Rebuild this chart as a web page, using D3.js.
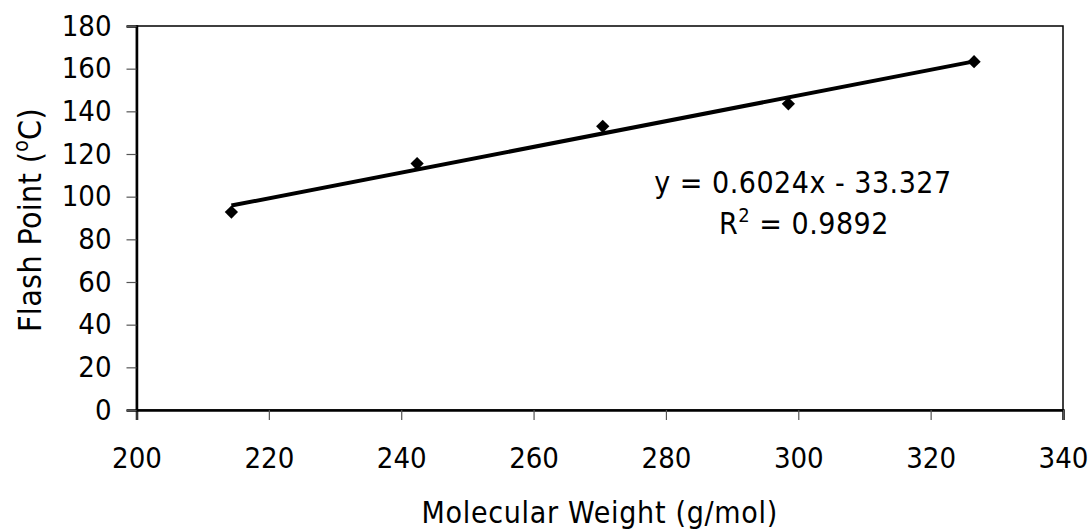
<!DOCTYPE html>
<html>
<head>
<meta charset="utf-8">
<script src="https://cdn.jsdelivr.net/npm/d3@7"></script>
<style>
  body { margin: 0; background: #fff; }
  svg text { font-family: "DejaVu Sans Condensed", "DejaVu Sans", sans-serif; fill: #000; }
</style>
</head>
<body>
<div id="chart"></div>
<script>
// molecular weight (g/mol) vs flash point (C)
var molWeight = [214.34, 242.40, 270.45, 298.50, 326.56];
var flashPoint = [92.8, 115.5, 133.0, 143.5, 163.3];

var xTicks = [200, 220, 240, 260, 280, 300, 320, 340];
var yTicks = [0, 20, 40, 60, 80, 100, 120, 140, 160, 180];

var eqLine = "y = 0.6024x - 33.327";
var r2Value = " = 0.9892";

var width = 1092,
    height = 531,
    margin = {left: 136.5, right: 29, top: 26, bottom: 121};

var svg = d3.select("#chart").append("svg")
    .attr("width", width)
    .attr("height", height);

var x = d3.scaleLinear()
    .domain([200, 340])
    .range([margin.left, width - margin.right]);

var y = d3.scaleLinear()
    .domain([0, 180])
    .range([height - margin.bottom, margin.top]);

// plot frame
svg.append("rect")
    .attr("x", x(200))
    .attr("y", y(180))
    .attr("width", x(340) - x(200))
    .attr("height", y(0) - y(180))
    .attr("fill", "none")
    .attr("stroke", "#000")
    .attr("stroke-width", 1.5);

// axes
var xAxis = svg.append("g")
    .attr("transform", "translate(0," + y(0) + ")")
    .call(d3.axisBottom(x).tickValues(xTicks).tickSize(10).tickPadding(27));

var yAxis = svg.append("g")
    .attr("transform", "translate(" + x(200) + ",0)")
    .call(d3.axisLeft(y).tickValues(yTicks).tickSize(10).tickPadding(15));

[xAxis, yAxis].forEach(function(ax) {
    ax.select(".domain").attr("stroke", "#000").attr("stroke-width", 2.5);
    ax.selectAll(".tick line").attr("stroke", "#555").attr("stroke-width", 1.2);
    ax.selectAll(".tick text")
      .attr("font-family", "DejaVu Sans Condensed, DejaVu Sans, sans-serif")
      .attr("font-size", 29)
      .attr("fill", "#000");
});

// least squares trend line
var mx = d3.mean(molWeight), my = d3.mean(flashPoint);
var sxy = d3.sum(molWeight, function(d, i) { return (d - mx) * (flashPoint[i] - my); });
var sxx = d3.sum(molWeight, function(d) { return (d - mx) * (d - mx); });
var slope = sxy / sxx, intercept = my - slope * mx;
var ext = d3.extent(molWeight);

svg.append("line")
    .attr("x1", x(ext[0]))
    .attr("y1", y(slope * ext[0] + intercept))
    .attr("x2", x(ext[1]))
    .attr("y2", y(slope * ext[1] + intercept))
    .attr("stroke", "#000")
    .attr("stroke-width", 4);

// diamond markers
var pts = molWeight.map(function(d, i) { return {mw: d, fp: flashPoint[i]}; });
svg.selectAll(".pt")
    .data(pts)
    .enter()
    .append("path")
    .attr("class", "pt")
    .attr("d", d3.symbol().type(d3.symbolDiamond2).size(112))
    .attr("transform", function(d) { return "translate(" + x(d.mw) + "," + y(d.fp) + ")"; })
    .attr("fill", "#000");

// equation labels
svg.append("text")
    .attr("x", 803)
    .attr("y", 193)
    .attr("text-anchor", "middle")
    .attr("font-size", 30)
    .attr("letter-spacing", 0.5)
    .text(eqLine);

var r2 = svg.append("text")
    .attr("x", 804)
    .attr("y", 234)
    .attr("text-anchor", "middle")
    .attr("font-size", 30)
    .attr("letter-spacing", 0.5);
r2.append("tspan").text("R");
r2.append("tspan").attr("font-size", 20).attr("dy", -12).text("2");
r2.append("tspan").attr("dy", 12).text(r2Value);

// axis titles
svg.append("text")
    .attr("x", (x(200) + x(340)) / 2)
    .attr("y", 523)
    .attr("text-anchor", "middle")
    .attr("font-size", 30)
    .attr("letter-spacing", 0.7)
    .text("Molecular Weight (g/mol)");

var yt = svg.append("text")
    .attr("transform", "translate(41," + 220 + ") rotate(-90)")
    .attr("text-anchor", "middle")
    .attr("font-size", 32)
    .attr("letter-spacing", 0.3);
yt.append("tspan").text("Flash Point (");
yt.append("tspan").attr("font-size", 21).attr("dy", -13).text("o");
yt.append("tspan").attr("dy", 13).text("C)");
</script>
</body>
</html>
